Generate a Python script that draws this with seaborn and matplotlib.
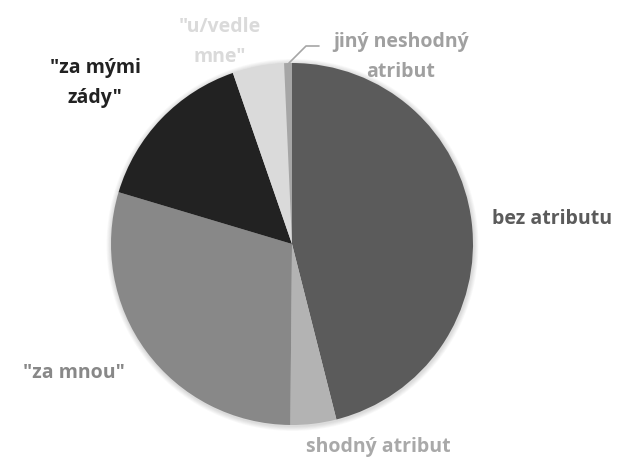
import matplotlib
matplotlib.use("Agg")
import matplotlib.pyplot as plt
import seaborn as sns
from matplotlib.patches import Circle

labels = ["bez atributu", "shodný atribut", "\"za mnou\"", "\"za mými\nzády\"", "\"u/vedle\nmne\"", "jiný neshodný\natribut"]
values = [46.1, 4.1, 29.5, 15.1, 4.6, 0.7]
slice_colors = ["#5b5b5b", "#b3b3b3", "#888888", "#222222", "#dadada", "#a6a6a6"]
label_colors = ["#5b5b5b", "#a9a9a9", "#888888", "#222222", "#dadada", "#a0a0a0"]

sns.set_theme(style="white")
plt.rcParams['font.family'] = ['Open Sans', 'DejaVu Sans']

W, H = 626, 463
fig = plt.figure(figsize=(W / 100, H / 100), dpi=100)
ax = fig.add_axes([0, 0, 1, 1])

cx, cy, r = 292, H - 244, 181
# soft shadow
for i in range(6):
    ax.add_patch(Circle((cx + 0.5, cy - 1), r + 1 + i * 0.8, color="black", alpha=0.025, lw=0, zorder=0))

wedges, _ = ax.pie(values, colors=slice_colors, startangle=90, counterclock=False,
                   center=(cx, cy), radius=r, wedgeprops=dict(linewidth=0), frame=True)

ax.set_xlim(0, W)
ax.set_ylim(0, H)
ax.set_aspect("equal")
ax.axis("off")

pos = [(552, 219), (378, 447), (74, 373), (95, 83), (220, 42), (401, 57)]
for lab, col, (x, y) in zip(labels, label_colors, pos):
    ax.text(x, H - y, lab, ha="center", va="center", fontsize=14, fontweight="bold",
            color=col, linespacing=1.65)

# leader line for small slice
ax.plot([289, 306, 319], [H - 63, H - 46, H - 46], color="#a6a6a6", lw=1.2, zorder=5)

fig.savefig("out.png", dpi=100)
